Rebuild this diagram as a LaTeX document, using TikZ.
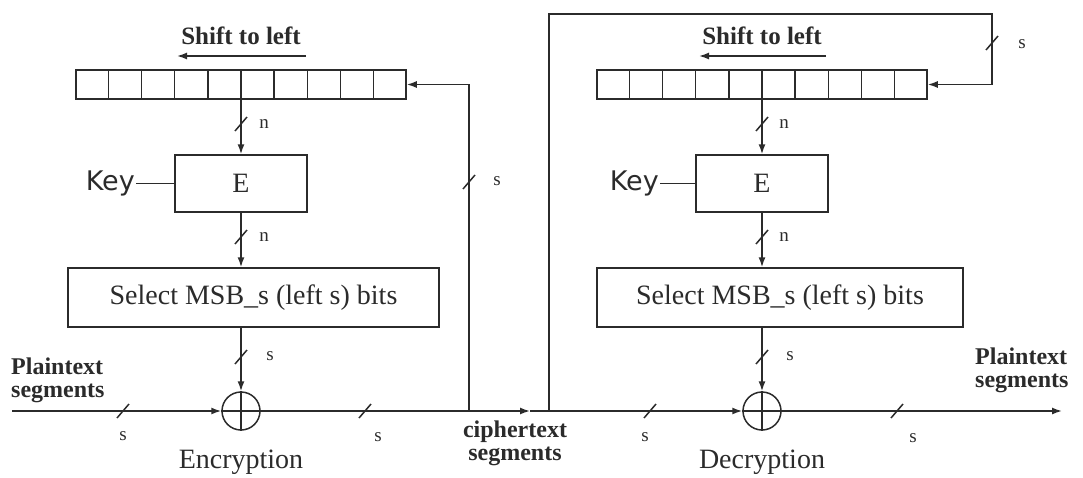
\documentclass[tikz,border=0pt]{standalone}
\usepackage{fontspec}
\setmainfont{Liberation Serif}
\newfontfamily\keyfont{DejaVu Sans}
\usetikzlibrary{arrows.meta,calc}
\definecolor{ink}{HTML}{2B2B2B}
\begin{document}
\begin{tikzpicture}[x=1pt,y=-1pt,
  box/.style={draw=ink, line width=1.5pt, rectangle, inner sep=0pt},
  reg/.style={box, minimum width=330pt, minimum height=29pt},
  ebox/.style={box, minimum width=132pt, minimum height=57pt, font=\fontsize{28}{30}\selectfont, text=ink},
  selbox/.style={box, minimum height=59pt, font=\fontsize{28}{30}\selectfont, text=ink},
  xor/.style={circle, draw=ink, line width=1.5pt, minimum size=38pt, inner sep=0pt},
  flow/.style={draw=ink, line width=1.5pt, -{Latex[length=10pt,width=7pt]}},
  wire/.style={draw=ink, line width=1.5pt},
  lbl/.style={font=\fontsize{19}{20}\selectfont, text=ink, inner sep=0pt},
  bigb/.style={font=\fontsize{24}{23}\selectfont\bfseries, text=ink, inner sep=0pt},
  bigr/.style={font=\fontsize{28}{20}\selectfont, text=ink, inner sep=0pt},
  keyst/.style={font=\keyfont\fontsize{27}{28}\selectfont, text=ink, inner sep=1pt},
  slashmk/.pic={\draw[wire] (-6,7) -- (6,-7);}
]
\useasboundingbox (0,0) rectangle (1083,477);

% ---------- Encryption side ----------
\node[bigb, font=\fontsize{25}{23}\selectfont\bfseries] (shL) at (241,36) {Shift to left};
\coordinate (saL1) at (306,56);
\coordinate (saL2) at (177,56);
\draw[flow] (saL1) -- (saL2);

\node[reg] (regL) at (241,84.5) {};
\foreach \i in {1,...,9}
  \draw[wire] ($(regL.north west)!\i/10!(regL.north east)$) -- ($(regL.south west)!\i/10!(regL.south east)$);

\node[ebox] (EL) at (241,183.5) {E};
\node[keyst, anchor=east] (kL) at (136,183.5) {Key};
\draw[wire] (kL.east) -- (EL.west);

\node[selbox, minimum width=371pt] (SL) at (253.5,297.5) {Select MSB\_s (left s) bits};
\node[xor] (xL) at (241,411) {};
\draw[wire] (xL.north) -- (xL.south) (xL.west) -- (xL.east);

\draw[flow] (regL.south) -- (EL.north);
\draw[flow] (EL.south) -- (EL.south |- SL.north);
\draw[flow] (xL.north |- SL.south) -- (xL.north);

\node[bigb, anchor=west, align=left] (ptL) at (11,380) {Plaintext\\segments};
\node[bigb, align=center] (ct) at (515,443) {ciphertext\\segments};
\node[bigr] (enc) at (241,462) {Encryption};

% ---------- Decryption side ----------
\node[bigb, font=\fontsize{25}{23}\selectfont\bfseries] (shR) at (762,36) {Shift to left};
\coordinate (saR1) at (826,56);
\coordinate (saR2) at (699,56);
\draw[flow] (saR1) -- (saR2);

\node[reg] (regR) at (762,84.5) {};
\foreach \i in {1,...,9}
  \draw[wire] ($(regR.north west)!\i/10!(regR.north east)$) -- ($(regR.south west)!\i/10!(regR.south east)$);

\node[ebox] (ER) at (762,183.5) {E};
\node[keyst, anchor=east] (kR) at (660,183.5) {Key};
\draw[wire] (kR.east) -- (ER.west);

\node[selbox, minimum width=366pt] (SR) at (780,297.5) {Select MSB\_s (left s) bits};
\node[xor] (xR) at (762,411) {};
\draw[wire] (xR.north) -- (xR.south) (xR.west) -- (xR.east);

\draw[flow] (regR.south) -- (ER.north);
\draw[flow] (ER.south) -- (ER.south |- SR.north);
\draw[flow] (xR.north |- SR.south) -- (xR.north);

% ---------- main line and feedback ----------
\coordinate (inL) at (12,411);
\coordinate (jL) at (469,411);
\coordinate (cTip) at (530,411);
\coordinate (jR) at (549,411);
\coordinate (topR) at (992,14);
\coordinate (outR) at (1062,411);
\draw[flow] (inL) -- (xL.west);
\draw[flow] (xL.east) -- (cTip);
\draw[flow] (cTip) -- (xR.west);
\draw[flow] (jL) |- (regL.east);
\draw[flow] (jR) |- (topR) |- (regR.east);
\draw[flow] (xR.east) -- (outR);

\node[bigb, anchor=west, align=left] (ptR) at (975,370) {Plaintext\\segments};
\node[bigr] (dec) at (762,462) {Decryption};

% ---------- width marks ----------
\foreach \p in {(241,124),(241,237),(241,357),(469,182),(762,124),(762,237),(762,357),(992,43),(123,411),(365,411),(650,411),(897,411)}
  \pic at \p {slashmk};

\node[lbl] (n1) at (264,124) {n};
\node[lbl] (n2) at (264,237) {n};
\node[lbl] (s1) at (270,356) {s};
\node[lbl] (s2) at (497,181) {s};
\node[lbl] (n3) at (784,124) {n};
\node[lbl] (n4) at (784,237) {n};
\node[lbl] (s3) at (790,356) {s};
\node[lbl] (s4) at (1022,44) {s};
\node[lbl] (s5) at (123,436) {s};
\node[lbl] (s6) at (378,437) {s};
\node[lbl] (s7) at (645,437) {s};
\node[lbl] (s8) at (913,438) {s};
\end{tikzpicture}
\end{document}
